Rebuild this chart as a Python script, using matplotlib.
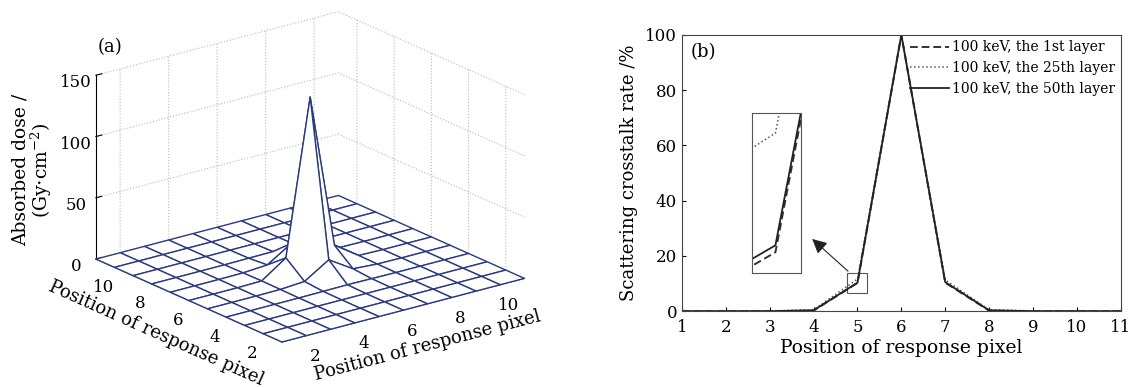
import numpy as np
import matplotlib.pyplot as plt
from matplotlib.patches import Rectangle

plt.rcParams['font.family'] = ['DejaVu Serif']
plt.rcParams['mathtext.fontset'] = 'dejavuserif'

## response pixel positions
pixel = [1, 2, 3, 4, 5, 6, 7, 8, 9, 10, 11]

## (b) scattering crosstalk rate in %, 100 keV
layer_1st = [0, 0, 0, 0.2, 10.22, 100, 10.3, 0.2, 0, 0, 0]
layer_25th = [0, 0, 0.1, 0.5, 11.6, 100, 11.3, 0.5, 0.1, 0, 0]
layer_50th = [0, 0, 0, 0.3, 10.3, 100, 10.5, 0.3, 0, 0, 0]

## (a) absorbed dose map, Gy.cm^-2
dose_map = [
    [0, 0, 0, 0, 0, 0, 0, 0, 0, 0, 0],
    [0, 0, 0, 0, 0, 0, 0, 0, 0, 0, 0],
    [0, 0, 0, 0, 0, 0, 0, 0, 0, 0, 0],
    [0, 0, 0, 0, 0.2, 0.4, 0.2, 0, 0, 0, 0],
    [0, 0, 0, 0.2, 1.5, 14, 1.5, 0.2, 0, 0, 0],
    [0, 0, 0, 0.4, 14, 140, 14, 0.4, 0, 0, 0],
    [0, 0, 0, 0.2, 1.5, 14, 1.5, 0.2, 0, 0, 0],
    [0, 0, 0, 0, 0.2, 0.4, 0.2, 0, 0, 0, 0],
    [0, 0, 0, 0, 0, 0, 0, 0, 0, 0, 0],
    [0, 0, 0, 0, 0, 0, 0, 0, 0, 0, 0],
    [0, 0, 0, 0, 0, 0, 0, 0, 0, 0, 0],
]

## zoomed window shown in the inset of (b)
zoom_x = (4.984, 5.017)
zoom_y = (9.98, 11.83)
## window marked on the main plot
mark_x = (4.76, 5.21)
mark_y = (6.5, 13.8)

fig = plt.figure(figsize=(11.32, 3.87), dpi=100)

########################################################
## (a) 3D mesh of absorbed dose
########################################################
ax3 = fig.add_axes([0.001, -0.068, 0.535, 1.19], projection='3d', proj_type='ortho')
X, Y = np.meshgrid(pixel, pixel)
Z = np.array(dose_map)
ax3.plot_surface(X, Y, Z, color='white', edgecolor='#2b3a80', linewidth=1.0,
                 shade=False, rstride=1, cstride=1, antialiased=True)
ax3.view_init(elev=20, azim=-127.5)
ax3.set_box_aspect((1, 1, 0.64))
ax3.set_xlim(1, 11)
ax3.set_ylim(1, 11)
ax3.set_zlim(0, 150)
ax3.set_xticks([2, 4, 6, 8, 10])
ax3.set_yticks([2, 4, 6, 8, 10])
ax3.set_zticks([0, 50, 100, 150])
for axis in (ax3.xaxis, ax3.yaxis, ax3.zaxis):
    axis.set_pane_color((1, 1, 1, 0))
    axis.pane.set_edgecolor('#b8b8b8')
    axis.pane.set_linestyle(':')
    axis._axinfo['grid'].update(color='#b8b8b8', linestyle=':', linewidth=0.8)
    axis._axinfo['tick']['inward_factor'] = 0.0
    axis._axinfo['tick']['outward_factor'] = 0.3
ax3.xaxis.line.set_color('#2b3a80')
ax3.yaxis.line.set_color('#2b3a80')
ax3.zaxis.line.set_color('black')
ax3.tick_params(labelsize=12, pad=0)
ax3.set_xlabel('Position of response pixel', fontsize=13, labelpad=2)
ax3.set_ylabel('Position of response pixel', fontsize=13, labelpad=2)
fig.text(0.029, 0.56, 'Absorbed dose /\n(Gy$\\cdot$cm$^{-2}$)', rotation=90,
         ha='center', va='center', fontsize=13.5, multialignment='center', linespacing=1.0)
fig.text(0.086, 0.865, '(a)', fontsize=13)

########################################################
## (b) scattering crosstalk rate
########################################################
ax = fig.add_axes([0.6025, 0.196, 0.3875, 0.714])
ax.plot(pixel, layer_1st, color='#333333', ls=(0, (4, 2)), lw=1.4, label='100 keV, the 1st layer')
ax.plot(pixel, layer_25th, color='#555555', ls=':', lw=1.1, label='100 keV, the 25th layer')
ax.plot(pixel, layer_50th, color='#222222', lw=1.3, label='100 keV, the 50th layer')
ax.set_xlim(1, 11)
ax.set_ylim(0, 100)
ax.set_xticks(pixel)
ax.set_yticks([0, 20, 40, 60, 80, 100])
ax.tick_params(direction='in', length=3, labelsize=12)
ax.tick_params(axis='x', pad=6)
for s in ax.spines.values():
    s.set_color('#444444')
ax.set_xlabel('Position of response pixel', fontsize=13.5, labelpad=2)
ax.set_ylabel('Scattering crosstalk rate /%', fontsize=13, labelpad=5)
ax.text(0.02, 0.97, '(b)', transform=ax.transAxes, va='top', fontsize=13)
ax.legend(loc='upper right', frameon=False, fontsize=10, handlelength=2.8,
          handletextpad=0.2, borderaxespad=0.0, labelspacing=0.5)

ax.add_patch(Rectangle((mark_x[0], mark_y[0]), mark_x[1] - mark_x[0], mark_y[1] - mark_y[0],
                       fill=False, edgecolor='#555555', lw=0.8))
ax.annotate('', xy=(3.92, 26.8), xytext=(4.83, 13.8),
            arrowprops=dict(arrowstyle='-|>', color='#222222', lw=0.8, mutation_scale=22))

axin = fig.add_axes([0.664, 0.2946, 0.0433, 0.413])
axin.plot(pixel, layer_1st, color='#333333', ls=(0, (4, 2)), lw=1.4)
axin.plot(pixel, layer_25th, color='#555555', ls=':', lw=1.1)
axin.plot(pixel, layer_50th, color='#222222', lw=1.3)
axin.set_xlim(*zoom_x)
axin.set_ylim(*zoom_y)
axin.set_xticks([])
axin.set_yticks([])
for s in axin.spines.values():
    s.set_color('#555555')

fig.savefig('out.png', dpi=100)
